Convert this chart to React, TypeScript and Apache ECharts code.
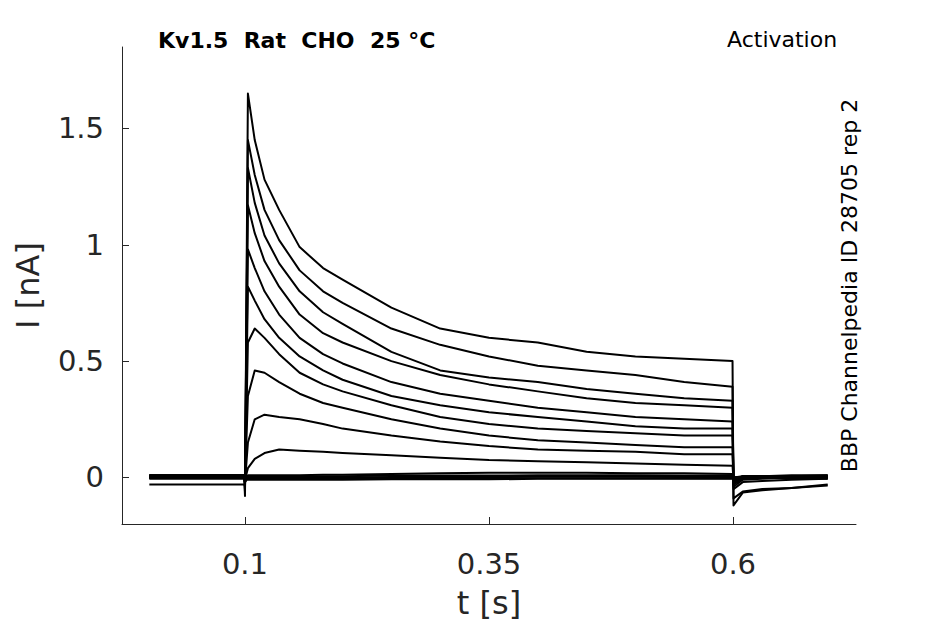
import React, { useEffect, useRef } from "react";
import * as echarts from "echarts";

// Time points (s)
const preTimes = [0.002, 0.0995];
const onsetTime = 0.1;
const stepTimes = [0.103, 0.11, 0.12, 0.135, 0.156, 0.18, 0.2, 0.25, 0.3, 0.35, 0.4, 0.45, 0.5, 0.55, 0.5995];
const tailTimes = [0.6005, 0.61, 0.63, 0.66, 0.697];

// Currents (nA) per sweep
const preCurrents = [-0.03, 0.005, 0, 0.01, 0, 0.005, 0, 0.01, 0, 0.005, 0, 0.01, -0.005, 0.005, 0];
const onsetCurrents = [-0.08, -0.06, -0.05, -0.04, -0.04, -0.03, -0.03, -0.02, -0.02, -0.01, -0.02, -0.01, -0.02, -0.01, -0.01];
const stepCurrents = [
  [1.65, 1.45, 1.28, 1.15, 0.99, 0.9, 0.85, 0.73, 0.64, 0.6, 0.58, 0.54, 0.52, 0.51, 0.5],
  [1.45, 1.3, 1.15, 1.02, 0.89, 0.8, 0.75, 0.64, 0.57, 0.52, 0.48, 0.46, 0.44, 0.41, 0.39],
  [1.33, 1.18, 1.04, 0.92, 0.8, 0.71, 0.66, 0.54, 0.46, 0.43, 0.41, 0.38, 0.36, 0.34, 0.33],
  [1.17, 1.05, 0.93, 0.82, 0.7, 0.62, 0.58, 0.5, 0.44, 0.4, 0.37, 0.34, 0.32, 0.31, 0.3],
  [0.98, 0.9, 0.8, 0.7, 0.6, 0.53, 0.49, 0.41, 0.36, 0.33, 0.3, 0.28, 0.26, 0.25, 0.24],
  [0.82, 0.76, 0.68, 0.6, 0.52, 0.46, 0.42, 0.35, 0.31, 0.28, 0.26, 0.24, 0.22, 0.21, 0.21],
  [0.58, 0.64, 0.6, 0.53, 0.45, 0.4, 0.37, 0.31, 0.26, 0.23, 0.21, 0.2, 0.19, 0.18, 0.18],
  [0.35, 0.46, 0.45, 0.41, 0.36, 0.32, 0.3, 0.25, 0.21, 0.18, 0.16, 0.15, 0.14, 0.13, 0.13],
  [0.15, 0.25, 0.27, 0.26, 0.25, 0.23, 0.21, 0.18, 0.155, 0.135, 0.12, 0.115, 0.11, 0.1, 0.1],
  [0.04, 0.08, 0.105, 0.12, 0.115, 0.11, 0.105, 0.095, 0.085, 0.075, 0.07, 0.065, 0.06, 0.055, 0.05],
  [0.01, 0.01, 0.01, 0.01, 0.01, 0.012, 0.012, 0.015, 0.018, 0.02, 0.02, 0.02, 0.018, 0.018, 0.015],
  [0.005, 0.005, 0.005, 0.005, 0.005, 0.005, 0.005, 0.008, 0.008, 0.008, 0.01, 0.01, 0.01, 0.008, 0.008],
  [0, 0, 0, 0, 0, 0, 0, 0.002, 0.002, 0.002, 0.003, 0.003, 0.003, 0.002, 0.002],
  [-0.005, -0.005, -0.005, -0.005, -0.005, -0.005, -0.004, -0.004, -0.004, -0.003, -0.003, -0.003, -0.003, -0.003, -0.003],
  [-0.01, -0.01, -0.01, -0.01, -0.01, -0.01, -0.01, -0.008, -0.008, -0.008, -0.006, -0.006, -0.006, -0.006, -0.006],
];
const tailCurrents = [
  [-0.12, -0.065, -0.055, -0.045, -0.035],
  [-0.09, -0.06, -0.05, -0.045, -0.03],
  [-0.05, -0.02, -0.015, -0.01, -0.005],
  [-0.04, -0.01, -0.005, 0, 0],
  [-0.03, -0.005, 0, 0, 0.005],
  [-0.03, 0, 0, 0.005, 0.005],
  [-0.02, 0, 0.005, 0.005, 0.005],
  [-0.02, 0.005, 0.005, 0.005, 0.005],
  [-0.01, 0.005, 0.005, 0.005, 0.01],
  [-0.01, 0.005, 0.005, 0.01, 0.01],
  [0, 0.005, 0.005, 0.005, 0.005],
  [0, 0, 0.005, 0.005, 0],
  [0, 0, 0, 0, 0],
  [0, 0, 0, -0.005, 0],
  [0, -0.005, 0, 0, -0.005],
];

const xTicks = [0.1, 0.35, 0.6];
const yTicks = [0, 0.5, 1, 1.5];

const titleText = "Kv1.5\u00a0\u00a0Rat\u00a0\u00a0CHO\u00a0\u00a025\u00a0°C";
const protocolText = "Activation";
const sourceText = "BBP Channelpedia ID 28705 rep 2";

const FONT = "DejaVu Sans";
const AXIS_COLOR = "#262626";

export default function App() {
  const ref = useRef<HTMLDivElement>(null);

  useEffect(() => {
    document.body.style.margin = "0";
    if (!ref.current) return;
    const chart = echarts.init(ref.current, undefined, { renderer: "svg" });

    const series = stepCurrents.map((step, i) => {
      const data: number[][] = [];
      preTimes.forEach((t) => data.push([t, preCurrents[i]]));
      data.push([onsetTime, onsetCurrents[i]]);
      stepTimes.forEach((t, j) => data.push([t, step[j]]));
      tailTimes.forEach((t, j) => data.push([t, tailCurrents[i][j]]));
      return {
        type: "line",
        data,
        showSymbol: false,
        symbol: "none",
        lineStyle: { color: "#000", width: 2, join: "round" },
        silent: true,
      };
    });

    chart.setOption({
      animation: false,
      grid: { left: 122, right: 89, top: 47, bottom: 99, containLabel: false },
      xAxis: {
        type: "value",
        min: -0.026,
        max: 0.726,
        name: "t [s]",
        nameLocation: "middle",
        nameGap: 63,
        nameTextStyle: { fontFamily: FONT, fontSize: 32, color: AXIS_COLOR },
        axisLine: { show: true, onZero: false, lineStyle: { color: AXIS_COLOR, width: 1 } },
        axisTick: { show: true, inside: true, length: 7, customValues: xTicks, lineStyle: { color: AXIS_COLOR } },
        axisLabel: {
          customValues: xTicks,
          fontFamily: FONT,
          fontSize: 29,
          color: AXIS_COLOR,
          margin: 25,
          formatter: (v: number) => String(v),
        },
        splitLine: { show: false },
      },
      yAxis: {
        type: "value",
        min: -0.2,
        max: 1.85,
        name: "I [nA]",
        nameLocation: "middle",
        nameGap: 78,
        nameTextStyle: { fontFamily: FONT, fontSize: 32, color: AXIS_COLOR },
        axisLine: { show: true, onZero: false, lineStyle: { color: AXIS_COLOR, width: 1 } },
        axisTick: { show: true, inside: true, length: 7, customValues: yTicks, lineStyle: { color: AXIS_COLOR } },
        axisLabel: {
          customValues: yTicks,
          fontFamily: FONT,
          fontSize: 29,
          color: AXIS_COLOR,
          margin: 18,
          formatter: (v: number) => String(v),
        },
        splitLine: { show: false },
      },
      graphic: [
        {
          type: "text",
          left: 158,
          top: 29,
          style: { text: titleText, font: `bold 22px "${FONT}"`, fill: "#000" },
        },
        {
          type: "text",
          left: 727,
          top: 28,
          style: { text: protocolText, font: `22px "${FONT}"`, fill: "#000" },
        },
        {
          type: "text",
          x: 849,
          y: 285.5,
          rotation: Math.PI / 2,
          style: {
            text: sourceText,
            font: `22px "${FONT}"`,
            fill: "#000",
            align: "center",
            verticalAlign: "middle",
          },
        },
      ],
      series,
    });

    return () => chart.dispose();
  }, []);

  return <div ref={ref} style={{ width: 945, height: 624 }} />;
}
